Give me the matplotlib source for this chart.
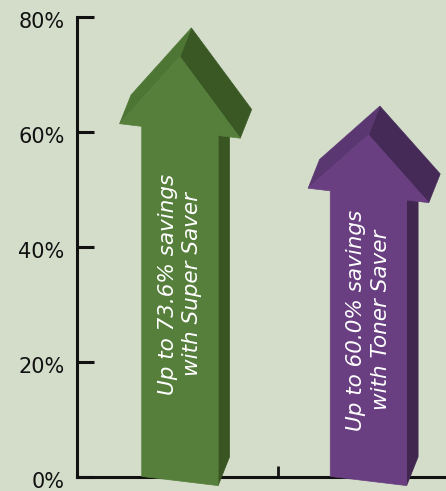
import matplotlib
matplotlib.use("Agg")
import matplotlib.pyplot as plt
from matplotlib.patches import Polygon
from matplotlib.transforms import ScaledTranslation

# ---- data ----
categories = ["Super Saver", "Toner Saver"]
savings = [73.6, 60.0]
arrow_labels = ["Up to 73.6% savings\nwith Super Saver",
                "Up to 60.0% savings\nwith Toner Saver"]
y_ticks = [0, 20, 40, 60, 80]
y_tick_labels = ["0%", "20%", "40%", "60%", "80%"]

# ---- style ----
bg = "#d3ddca"
front_colors = ["#557f3a", "#693f81"]
left_head_colors = ["#4d7634", "#5b3772"]
right_head_colors = ["#3a5824", "#452a57"]
side_colors = ["#395522", "#41274f"]

W, H = 446, 491
fig = plt.figure(figsize=(W / 100, H / 100), dpi=100, facecolor=bg)
ax = fig.add_axes([77 / W, (H - 477) / H, (W - 77) / W, (477 - 17) / H])
ax.set_facecolor(bg)
ax.set_xlim(-0.5, 0.5 + (W - 278) / 201)
ax.set_ylim(0, 80)

for s in ["top", "right"]:
    ax.spines[s].set_visible(False)
for s in ["left", "bottom"]:
    ax.spines[s].set_linewidth(2.2)
    ax.spines[s].set_color("#111111")

ax.set_yticks(y_ticks)
ax.set_yticklabels(y_tick_labels, fontsize=15, color="#111111")
ax.tick_params(axis="y", direction="in", length=12, width=2.2, pad=9, color="#111111")
ax.set_xticks([0.5])
ax.set_xticklabels([""])
ax.tick_params(axis="x", direction="in", length=8, width=2.0, color="#111111")
for lab in ax.get_yticklabels():
    lab.set_transform(lab.get_transform() + ScaledTranslation(0, -3 / 100, fig.dpi_scale_trans))

# arrow geometry (style constants)
X0, PERSP = 0.012, 0.938       # horizontal placement
SHEAR = 4.2                     # % per x unit (tilted front face)
DX, DY = 0.057, 5.0             # depth vector
SW, HW = 0.19, 0.30             # shaft / head half widths
BASE = -0.7
HEAD_FRAC = 0.175

for i, (val, lab) in enumerate(zip(savings, arrow_labels)):
    xc = X0 + PERSP * i

    def P(u, v, back=False):
        x, y = xc + u, v - SHEAR * u
        if back:
            x, y = x + DX, y + DY
        return (x, y)

    vt = val - 0.5
    hh = HEAD_FRAC * (vt - BASE)
    vb = vt - hh

    side = [P(SW, BASE), P(SW, vb), P(SW, vb, True), P(SW, BASE, True)]
    rhead = [P(0, vt), P(0, vt, True), P(HW, vb, True), P(HW, vb)]
    lhead = [P(-HW, vb), P(0, vt), P(0, vt, True), P(-HW, vb, True)]
    front = [P(-SW, BASE), P(SW, BASE), P(SW, vb), P(HW, vb), P(0, vt),
             P(-HW, vb), P(-SW, vb)]
    for poly, col, z in [(side, side_colors[i], 3), (rhead, right_head_colors[i], 3.1),
                         (lhead, left_head_colors[i], 3.2), (front, front_colors[i], 3.3)]:
        ax.add_patch(Polygon(poly, closed=True, facecolor=col, edgecolor=col,
                             linewidth=0.5, zorder=z, clip_on=False))

    ax.text(xc, 0.455 * val, lab, rotation=90, ha="center", va="center",
            multialignment="center", color="white", fontsize=15.5, style="italic",
            linespacing=1.3, zorder=5)

fig.savefig("out.png", dpi=100, facecolor=bg)
